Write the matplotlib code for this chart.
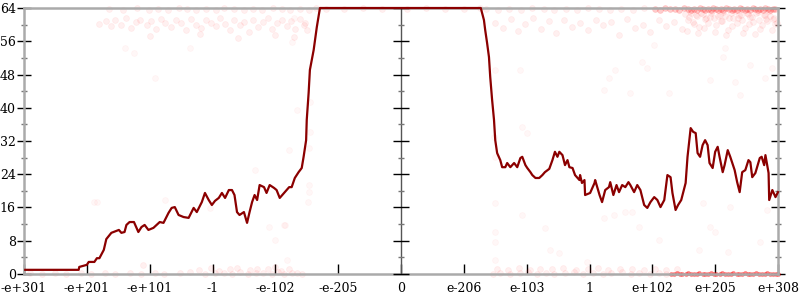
import numpy as np
import matplotlib
matplotlib.use("Agg")
import matplotlib.pyplot as plt

# Tick positions and labels on the ordinal x axis
x_ticks = [-6, -5, -4, -3, -2, -1, 0, 1, 2, 3, 4, 5, 6]
x_labels = ["-e+301", "-e+201", "-e+101", "-1", "-e-102", "-e-205", "0",
            "e-206", "e-103", "1", "e+102", "e+205", "e+308"]
y_major = [0, 8, 16, 24, 32, 40, 48, 56, 64]
y_minor = [4, 12, 20, 28, 36, 44, 52, 60]

# Averaged error line (bits)
line_x = [-5.98, -5.13, -5.12, -5.00, -4.97, -4.88, -4.84, -4.80, -4.73, -4.69,
          -4.61, -4.49, -4.45, -4.40, -4.37, -4.32, -4.25, -4.21, -4.18, -4.13,
          -4.08, -4.02, -3.94, -3.89, -3.84, -3.78, -3.70, -3.65, -3.60, -3.54,
          -3.46, -3.38, -3.30, -3.25, -3.17, -3.12, -3.06, -3.01, -2.96, -2.90,
          -2.85, -2.80, -2.74, -2.69, -2.65, -2.61, -2.57, -2.50, -2.45, -2.41,
          -2.37, -2.33, -2.29, -2.25, -2.18, -2.14, -2.09, -2.02, -1.98, -1.93,
          -1.86, -1.78, -1.74, -1.69, -1.63, -1.58, -1.55, -1.51, -1.50, -1.47,
          -1.45, -1.39, -1.34, -1.29,
          1.27, 1.32, 1.34, 1.37, 1.40, 1.42, 1.45, 1.48, 1.50, 1.53,
          1.58, 1.61, 1.66, 1.69, 1.74, 1.80, 1.85, 1.90, 1.93, 1.98,
          2.01, 2.06, 2.09, 2.14, 2.20, 2.25, 2.29, 2.36, 2.41, 2.45,
          2.49, 2.52, 2.57, 2.61, 2.65, 2.68, 2.73, 2.77, 2.84, 2.85,
          2.88, 2.92, 2.93, 3.01, 3.08, 3.09, 3.16, 3.20, 3.25, 3.31,
          3.33, 3.38, 3.43, 3.47, 3.52, 3.57, 3.62, 3.65, 3.71, 3.76,
          3.81, 3.87, 3.92, 3.97, 4.03, 4.08, 4.13, 4.19, 4.24, 4.29,
          4.32, 4.37, 4.41, 4.46, 4.53, 4.56, 4.61, 4.65, 4.69, 4.72,
          4.76, 4.80, 4.84, 4.88, 4.91, 4.96, 5.00, 5.04, 5.07, 5.12,
          5.15, 5.20, 5.24, 5.31, 5.35, 5.39, 5.43, 5.48, 5.53, 5.56,
          5.59, 5.64, 5.71, 5.74, 5.78, 5.80, 5.85, 5.86, 5.91, 5.96, 6.00]
line_y = [1.0, 1.0, 1.7, 2.2, 2.9, 2.9, 3.8, 3.8, 5.8, 8.4,
          9.9, 10.6, 9.9, 10.1, 11.8, 12.5, 12.5, 11.1, 10.1, 11.3,
          11.8, 10.6, 11.1, 11.8, 12.5, 12.3, 14.7, 15.9, 16.1, 14.2,
          13.7, 13.5, 15.9, 14.9, 17.3, 19.5, 17.8, 16.6, 17.6, 18.3,
          19.5, 18.3, 20.2, 20.2, 19.0, 14.9, 14.2, 14.9, 12.3, 14.9,
          17.3, 19.0, 17.8, 21.4, 20.9, 19.5, 21.4, 20.7, 20.2, 18.3,
          19.5, 20.9, 20.9, 23.1, 24.5, 25.5, 28.2, 32.2, 37.1, 43.6,
          49.1, 53.9, 59.4, 64.0,
          64.0, 61.1, 58.7, 55.6, 52.2, 47.4, 41.9, 37.1, 32.2, 29.1,
          27.4, 25.7, 25.7, 26.7, 25.7, 26.7, 25.7, 27.9, 28.2, 26.2,
          25.5, 24.5, 23.8, 23.1, 23.1, 23.8, 24.5, 25.3, 27.4, 29.4,
          28.2, 29.4, 28.6, 26.2, 27.4, 25.7, 25.5, 23.8, 22.6, 23.8,
          21.9, 22.6, 19.0, 19.5, 21.9, 22.6, 19.0, 17.3, 20.2, 20.9,
          22.1, 19.0, 21.4, 19.7, 21.4, 20.9, 22.1, 21.4, 19.7, 21.4,
          20.2, 16.6, 15.9, 17.3, 18.5, 17.8, 16.1, 17.8, 23.8, 23.3,
          19.5, 15.4, 16.6, 17.8, 21.9, 28.2, 35.1, 34.2, 33.9, 29.1,
          28.2, 31.0, 32.2, 31.0, 26.7, 25.5, 29.4, 30.6, 28.2, 24.5,
          26.2, 29.8, 28.2, 25.0, 22.1, 19.7, 24.5, 25.0, 27.4, 26.9,
          23.3, 24.3, 27.9, 28.2, 26.2, 28.6, 24.3, 17.8, 20.2, 18.5, 19.7]

# Sample points (x ordinal, bits of error)
bottom_x = [-5.9, -5.72, -5.5, -5.33, -5.1, -4.93, -4.71, -4.55, -4.32, -4.14,
            -3.92, -3.77, -3.52, -3.36, -3.12, -2.96, -2.81, -2.69, -2.56, -2.44,
            -2.31, -2.19, -2.06, -1.95, -1.86, -1.74, -1.66, -1.58,
            -3.21, -3.02, -2.9, -2.72, -2.61, -2.41, -2.29, -2.12, -2.01, -1.91,
            -1.79, -4.1,
            1.46, 1.58, 1.74, 1.9, 2.02, 2.16, 2.31, 2.44, 2.61, 2.76,
            2.9, 3.06, 3.21, 3.34, 3.51, 3.66, 3.79, 3.96, 4.11, 4.21,
            1.52, 1.7, 1.88, 2.05, 2.22, 2.4, 2.58, 2.79, 2.97, 3.14,
            3.3, 3.49, 3.68, 3.86, 4.04, 4.22, 4.4]
bottom_y = [0.2, 0.1, 0.3, 0.0, 0.2, 0.1, 0.3, 0.0, 0.2, 0.1,
            0.3, 0.0, 0.2, 0.4, 0.1, 0.3, 0.2, 0.0, 0.4, 0.1,
            0.3, 0.2, 0.0, 0.4, 0.1, 0.3, 0.2, 0.0,
            1.0, 1.4, 0.8, 1.2, 1.5, 0.9, 1.3, 1.1, 1.6, 0.8,
            1.2, 2.2,
            0.1, 0.3, 0.0, 0.2, 0.4, 0.1, 0.3, 0.0, 0.2, 0.4,
            0.1, 0.3, 0.0, 0.2, 0.4, 0.1, 0.3, 0.0, 0.2, 0.0,
            1.2, 1.0, 1.4, 0.9, 1.3, 1.1, 1.5, 1.0, 1.2, 1.4,
            0.9, 1.3, 1.1, 1.0, 1.2, 0.9, 1.1]

# dense band of exact results on the far right
dense_bottom_x = [4.30, 4.35, 4.39, 4.44, 4.48, 4.53, 4.57, 4.62, 4.66, 4.71,
                  4.75, 4.80, 4.84, 4.89, 4.93, 4.98, 5.02, 5.07, 5.11, 5.16,
                  5.20, 5.25, 5.29, 5.34, 5.38, 5.43, 5.47, 5.52, 5.56, 5.61,
                  5.65, 5.70, 5.74, 5.79, 5.83, 5.88, 5.92, 5.97, 6.00]
dense_bottom_y = [0.1, 0.0, 0.2, 0.0, 0.1, 0.0, 0.2, 0.0, 0.1, 0.0,
                  0.2, 0.0, 0.1, 0.0, 0.2, 0.0, 0.1, 0.0, 0.2, 0.0,
                  0.1, 0.0, 0.2, 0.0, 0.1, 0.0, 0.2, 0.0, 0.1, 0.0,
                  0.2, 0.0, 0.1, 0.0, 0.2, 0.0, 0.1, 0.0, 0.1]

top_x = [-4.65, -4.42, -4.2, -4.01, -3.86, -3.71, -3.54, -3.41, -3.26, -3.1,
         -2.94, -2.81, -2.66, -2.5, -2.36, -2.21, -2.04, -1.9, -1.76, -1.61,
         -1.46, -1.35, -1.2, -0.9, -0.6, -0.3, 0.1, 0.4, 0.7, 1.0, 1.25,
         1.36, 1.55, 1.72, 1.91, 2.08, 2.27, 2.44, 2.63, 2.8, 2.98,
         3.15, 3.33, 3.5, 3.69, 3.86]
top_y = [63.8, 63.6, 63.9, 63.5, 63.8, 63.6, 63.9, 63.7, 63.5, 63.8,
         63.6, 63.9, 63.7, 63.5, 63.8, 63.6, 63.9, 63.7, 63.5, 63.8,
         63.6, 63.9, 63.8, 63.7, 63.9, 63.8, 63.7, 63.9, 63.8, 63.7, 63.9,
         63.7, 63.5, 63.8, 63.6, 63.9, 63.7, 63.5, 63.8, 63.6, 63.9,
         63.7, 63.5, 63.8, 63.6, 63.9]

dense_top_x = [4.04, 4.12, 4.2, 4.28, 4.36, 4.43, 4.5, 4.56, 4.62, 4.67,
               4.71, 4.76, 4.8, 4.84, 4.88, 4.93, 4.97, 5.01, 5.05, 5.09,
               5.13, 5.18, 5.22, 5.26, 5.3, 5.35, 5.39, 5.43, 5.47, 5.51,
               5.55, 5.6, 5.64, 5.68, 5.72, 5.76, 5.8, 5.84, 5.88, 5.92, 5.96]
dense_top_y = [63.8, 63.6, 63.9, 63.7, 63.8, 63.6, 63.9, 63.7, 63.5, 63.8,
               63.6, 63.9, 63.7, 63.5, 63.8, 63.6, 63.9, 63.7, 63.5, 63.8,
               63.6, 63.9, 63.7, 63.5, 63.8, 63.6, 63.9, 63.7, 63.5, 63.8,
               63.6, 63.9, 63.7, 63.5, 63.8, 63.6, 63.9, 63.7, 63.5, 63.8, 63.7]

cloud_x = [-4.8, -4.7, -4.62, -4.55, -4.45, -4.38, -4.3, -4.22, -4.15, -4.05,
           -3.98, -3.9, -3.82, -3.75, -3.66, -3.58, -3.5, -3.42, -3.35, -3.26,
           -3.18, -3.1, -3.02, -2.95, -2.88, -2.8, -2.72, -2.65, -2.57, -2.5,
           -2.42, -2.35, -2.27, -2.2, -2.12, -2.05, -1.98, -1.9, -1.82, -1.75,
           -1.68, -1.6, -1.55, -4.0, -3.2, -2.6, -2.0, -1.7, -1.53, -1.5,
           1.5, 1.62, 1.75, 1.86, 1.98, 2.1, 2.23, 2.35, 2.47, 2.6,
           2.72, 2.85, 2.97, 3.1, 3.22, 3.35, 3.47, 3.6, 3.72, 3.85,
           3.97, 4.1, 4.22, 4.35, 4.47,
           4.52, 4.57, 4.62, 4.66, 4.71, 4.75, 4.8, 4.84, 4.89, 4.93,
           4.98, 5.02, 5.07, 5.11, 5.16, 5.2, 5.25, 5.29, 5.34, 5.38,
           5.43, 5.47, 5.52, 5.56, 5.61, 5.65, 5.7, 5.74, 5.79, 5.83,
           5.88, 5.92, 5.96,
           4.55, 4.64, 4.73, 4.82, 4.91, 5.0, 5.09, 5.18, 5.27, 5.36,
           5.45, 5.54, 5.63, 5.72, 5.81, 5.9, 5.98,
           4.6, 4.78, 4.95, 5.13, 5.31, 5.5, 5.68, 5.86,
           4.58, 4.69, 4.86, 5.04, 5.22, 5.41, 5.59, 5.77, 5.94]
cloud_y = [60.2, 60.8, 59.6, 61.2, 60.0, 61.5, 59.3, 60.6, 61.0, 59.8,
           60.9, 58.9, 61.4, 60.3, 59.5, 61.0, 60.4, 58.6, 61.3, 60.0,
           59.2, 61.1, 60.5, 59.7, 61.6, 60.1, 58.8, 61.0, 59.9, 60.7,
           58.3, 61.2, 59.4, 60.6, 61.5, 59.0, 60.3, 61.1, 59.6, 60.8,
           58.9, 61.4, 60.0, 57.2, 57.8, 56.9, 57.5, 57.0, 60.4, 58.7,
           60.5, 59.2, 61.3, 58.4, 60.1, 61.6, 59.0, 60.8, 57.9, 61.0,
           59.5, 60.3, 58.6, 61.2, 59.8, 60.6, 57.6, 61.4, 59.1, 60.0,
           58.2, 61.1, 59.6, 60.7, 58.9,
           62.5, 61.0, 62.8, 60.2, 62.1, 59.4, 62.6, 61.3, 60.5, 62.9,
           61.7, 59.8, 62.4, 60.9, 62.0, 58.8, 62.7, 61.5, 60.3, 62.2,
           61.0, 59.2, 62.6, 61.8, 60.6, 62.9, 61.2, 59.9, 62.4, 60.8,
           62.1, 61.4, 60.1,
           58.5, 60.6, 57.9, 59.3, 61.9, 58.2, 60.9, 57.6, 59.7, 61.6,
           58.0, 60.2, 57.8, 59.0, 61.3, 58.6, 60.4,
           63.2, 62.9, 63.3, 63.0, 63.2, 62.8, 63.1, 63.3,
           61.8, 62.3, 61.5, 62.0, 61.7, 62.4, 61.9, 62.2, 61.6]

sparse_x = [-4.40, -4.25, -3.92, -3.36, -1.78, -2.33, -1.47, -1.47, -1.48, -2.10,
            -1.86, -3.04, -1.71, -1.74, -1.66, -1.45, -1.45, -1.47, -4.84, -1.85,
            -2.01, -1.82, -3.76, -4.88,
            1.50, 1.93, 2.29, 2.37, 2.52, 1.50, 2.96, 3.23, 3.39, 3.57,
            3.68, 3.79, 4.11, 4.80, 4.91, 4.99, 4.75, 5.20, 5.24, 5.72,
            5.83, 1.50, 1.50, 3.84, 3.92, 3.41, 3.31, 3.23, 4.92, 5.32,
            5.80, 5.12, 5.16, 4.03, 5.55, 5.91, 4.27, 5.40, 3.65, 1.50,
            1.90, 1.93, 2.01, 1.48, 1.50]
sparse_y = [54.4, 53.2, 47.2, 54.4, 29.8, 25.0, 21.4, 19.7, 17.3, 11.3,
            11.8, 15.9, 61.6, 55.8, 39.5, 41.4, 34.2, 30.3, 17.3, 11.8,
            8.2, 3.4, 17.8, 17.3,
            17.1, 14.2, 11.1, 5.8, 5.0, 3.4, 2.9, 13.5, 14.2, 14.9,
            14.9, 11.3, 8.2, 17.1, 11.3, 10.1, 5.8, 5.3, 16.1, 7.7,
            15.4, 7.7, 10.1, 51.0, 49.6, 49.1, 47.2, 44.3, 46.7, 46.2,
            47.2, 52.2, 54.4, 55.1, 50.3, 49.6, 43.6, 43.1, 43.6, 49.1,
            49.1, 35.4, 33.9, 33.0, 28.2]

plt.rcParams["font.family"] = ["DejaVu Serif"]

fig = plt.figure(figsize=(8, 3), dpi=100)
ax = fig.add_axes([0.03, 0.0867, 0.9425, 0.8866])

def points(xs, ys, fa, ea, size=18):
    ax.scatter(xs, ys, s=size, facecolors=[(1, 0, 0, fa)], edgecolors=[(1, 0, 0, ea)],
               linewidths=0.6, zorder=2, clip_on=False)

points(bottom_x, bottom_y, 0.06, 0.05)
points(top_x, top_y, 0.06, 0.05)
points(cloud_x, cloud_y, 0.06, 0.05)
points(sparse_x, sparse_y, 0.03, 0.03)
points(dense_bottom_x, dense_bottom_y, 0.5, 0.15, size=10)
points(dense_top_x, dense_top_y, 0.2, 0.12)

ax.plot(line_x, line_y, color="#8b0000", lw=1.6, zorder=4, clip_on=False)

ax.set_xlim(-6, 6)
ax.set_ylim(0, 64)

for side in ["left", "right", "top", "bottom"]:
    ax.spines[side].set_color("#aaaaaa")
    ax.spines[side].set_linewidth(1.8)

ax.set_yticks(y_major)
ax.set_yticks(y_minor, minor=True)
ax.set_xticks(x_ticks)
ax.set_xticklabels(x_labels)
ax.tick_params(axis="y", which="major", direction="inout", length=10, width=1,
               color="black", left=True, right=True, labelsize=9, pad=1)
ax.tick_params(axis="y", which="minor", direction="inout", length=5, width=1,
               color="#777777", left=True, right=True)
ax.tick_params(axis="x", which="major", direction="in", length=7, width=1,
               color="black", labelsize=9, pad=6)

# middle axis at zero
ax.axvline(0, color="#555555", lw=1, zorder=3)
ax.plot([0] * len(y_major), y_major, ls="none", marker="_", markersize=11,
        markeredgewidth=1, color="black", zorder=3, clip_on=False)
ax.plot([0] * len(y_minor), y_minor, ls="none", marker="_", markersize=5,
        markeredgewidth=1, color="#777777", zorder=3)

fig.savefig("out.png", dpi=100)
